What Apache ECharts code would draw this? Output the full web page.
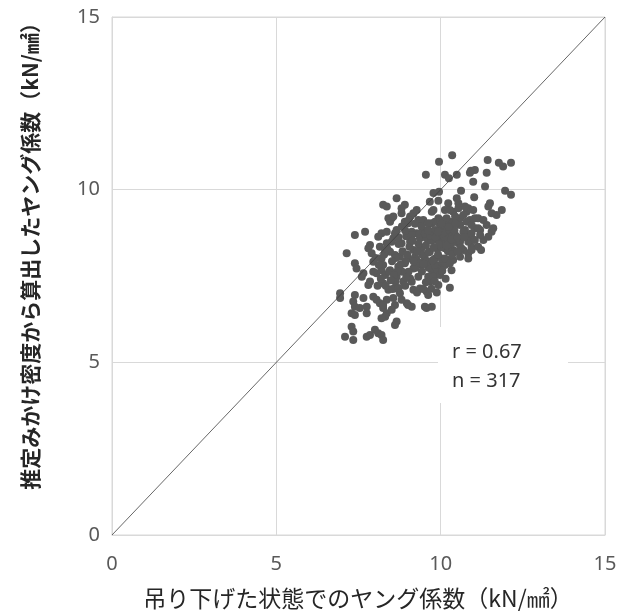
<!DOCTYPE html>
<html>
<head>
<meta charset="utf-8">
<script src="https://cdn.jsdelivr.net/npm/echarts@6/dist/echarts.min.js"></script>
<style>html,body{margin:0;padding:0;background:#fff;}#c{width:628px;height:612px;}</style>
</head>
<body>
<div id="c"></div>
<script>
// Axis ticks
const xTicks = [0, 5, 10, 15];
const yTicks = [0, 5, 10, 15];
const xTitle = '吊り下げた状態でのヤング係数（kN/㎟）';
const yTitle = '推定みかけ密度から算出したヤング係数（kN/㎟）';
const statLines = ['r = 0.67', 'n = 317'];
const refLine = [[0, 0], [15, 15]];

// [suspended Young's modulus, estimated Young's modulus] (kN/mm2)
const points = [
[9.55,10.43],[8.66,9.75],[8.25,9.56],[8.36,9.51],[8.91,9.56],[8.81,9.32],[8.51,9.17],[8.46,9.07],
[9.07,9.22],[9.32,9.12],[8.91,9.07],[7.70,8.78],[7.39,8.69],[8.20,8.74],[8.10,8.64],[8.56,8.59],
[7.85,8.40],[8.15,8.35],[10.35,11.00],[9.95,10.81],[10.13,10.43],[10.25,10.33],[10.49,10.43],[10.92,10.55],
[11.04,10.57],[10.89,10.49],[11.43,10.86],[11.77,10.78],[11.90,10.67],[12.14,10.78],[11.40,10.49],[10.99,10.23],
[11.35,10.09],[11.96,9.97],[12.14,9.85],[10.62,9.97],[11.02,9.78],[9.95,9.94],[9.78,9.90],[9.67,9.65],
[9.93,9.68],[10.23,9.61],[10.49,9.75],[10.54,9.61],[10.84,9.46],[10.79,9.36],[11.50,9.61],[11.86,9.41],
[11.70,9.27],[10.13,9.41],[10.38,9.36],[9.73,9.36],[10.59,9.17],[10.89,9.12],[11.14,9.17],[9.73,9.03],
[9.98,8.98],[10.28,9.07],[11.40,8.98],[11.20,8.83],[11.04,8.88],[11.55,8.78],[10.74,8.83],[10.79,8.64],
[10.94,8.59],[11.30,8.54],[9.62,8.83],[9.73,8.69],[9.98,8.59],[10.23,8.74],[10.38,8.59],[10.54,8.45],
[10.94,8.35],[11.14,8.35],[11.23,8.25],[10.84,8.16],[10.69,8.25],[10.38,8.25],[10.13,8.30],[9.67,8.20],
[9.83,8.01],[9.57,7.91],[10.13,7.91],[9.98,7.82],[10.33,7.67],[9.73,7.67],[9.93,7.58],[9.62,7.48],
[9.67,7.34],[9.93,7.24],[10.28,7.16],[9.57,7.05],[9.62,6.95],[9.73,6.61],[9.57,6.57],[7.14,8.16],
[7.80,8.30],[7.90,8.16],[8.31,8.25],[7.39,7.87],[7.44,7.72],[7.65,7.58],[7.60,7.48],[7.95,7.91],
[8.20,7.67],[8.05,7.58],[7.85,7.34],[7.80,7.24],[6.94,7.00],[6.94,6.86],[7.39,6.95],[7.34,6.76],
[7.39,6.61],[7.65,6.86],[7.75,6.61],[7.54,6.57],[7.95,6.90],[8.05,6.81],[8.15,6.71],[7.29,6.42],
[7.39,6.37],[7.75,6.42],[8.25,6.57],[8.36,6.42],[8.31,6.32],[8.61,6.66],[8.51,6.52],[9.01,6.66],
[9.12,6.61],[9.52,6.61],[8.66,6.18],[8.61,6.08],[8.20,6.28],[7.29,6.03],[7.34,5.89],[7.09,5.74],
[7.34,5.65],[7.75,5.74],[7.85,5.79],[8.10,5.84],[8.20,5.79],[8.25,5.65],[8.00,5.94],[8.41,9.17],
[8.56,9.22],[8.81,9.46],[9.01,9.03],[9.17,9.32],[9.27,9.41],[9.78,9.41],[9.93,9.17],[9.83,9.07],
[9.47,9.12],[8.66,8.83],[8.61,8.74],[8.36,8.78],[9.12,8.78],[9.27,8.74],[9.47,8.83],[10.08,8.88],
[10.18,8.83],[8.81,8.45],[8.51,8.49],[8.36,8.45],[9.07,8.49],[9.37,8.59],[9.57,8.59],[9.78,8.54],
[9.98,8.49],[10.13,8.54],[8.46,8.20],[8.61,8.11],[8.76,8.06],[9.17,8.25],[9.42,8.30],[9.88,8.30],
[9.01,8.01],[9.27,7.96],[9.52,8.01],[9.78,7.96],[10.03,8.01],[10.23,7.96],[8.20,8.01],[8.25,7.82],
[8.46,7.67],[8.31,7.53],[8.71,7.77],[8.91,7.87],[9.17,7.72],[9.42,7.82],[9.67,7.87],[9.88,7.72],
[10.13,7.82],[8.66,7.48],[8.86,7.34],[9.07,7.43],[9.32,7.48],[9.78,7.48],[9.98,7.53],[8.25,7.29],
[8.41,7.10],[8.61,7.14],[8.76,7.00],[9.17,7.10],[9.37,7.14],[8.36,6.81],[8.56,6.86],[8.25,6.66],
[8.97,6.71],[8.81,6.81],[11.55,9.32],[11.45,9.51],[10.28,9.41],[10.54,9.46],[10.74,9.51],[10.99,9.41],
[11.04,9.17],[11.30,9.12],[9.98,9.12],[10.18,9.17],[10.44,9.22],[10.69,9.27],[10.08,8.98],[10.33,8.93],
[10.59,8.98],[10.79,9.07],[10.94,8.98],[11.60,8.88],[11.14,8.88],[10.44,8.69],[10.69,8.78],[10.94,8.74],
[11.20,8.69],[11.45,8.64],[10.08,8.49],[10.33,8.45],[10.59,8.49],[10.84,8.49],[11.04,8.54],[10.44,8.20],
[10.94,8.25],[10.13,8.01],[10.38,7.96],[10.59,8.06],[10.84,8.01],[10.28,7.87],
[8.95,8.65],[9.05,8.35],[9.22,8.05],[9.33,8.42],[9.44,8.12],[9.55,8.38],[9.63,8.18],[9.72,8.52],
[9.12,8.68],[8.84,8.22],[8.93,7.93],[9.02,7.62],[9.24,7.74],[9.43,7.63],[9.55,7.32],[9.63,7.74],
[9.82,7.82],[9.92,8.12],[10.02,8.33],[10.12,8.63],[10.22,8.22],[10.32,8.55],[10.42,8.82],[10.52,8.62],
[10.62,8.32],[10.72,8.63],[10.03,9.02],[9.83,8.83],[9.62,9.03],[9.42,8.93],[9.22,9.01],[9.03,9.12],
[8.82,8.93],[8.72,8.43],[8.63,8.02],[8.52,7.93],[8.43,7.62],[8.62,7.33],[8.83,7.62],[8.92,7.22],
[9.12,7.33],[9.28,7.02],[9.47,7.12],[9.72,7.13],[9.88,7.02],[9.15,8.52],[9.35,8.72],[9.52,8.72],
[9.68,8.66],[9.85,8.62],[10.05,8.72],[10.25,8.92],[10.45,9.02],[9.95,8.42],[9.78,8.32],[9.58,7.92],
[9.38,7.88],[9.18,7.92],[8.98,8.12],[8.78,7.83],[8.68,7.63],[8.58,7.53],[8.48,7.38],[8.33,7.22],
[8.53,7.12],[8.18,7.42],[8.08,7.22],[8.12,7.82],[8.02,8.02],[7.95,7.62],[8.28,8.12],[8.38,8.28],
[8.72,8.62],[8.92,8.82],[9.62,8.82],[9.92,8.78],[10.18,8.38],[10.35,8.12],[10.52,8.22],[9.75,7.95],
[10.05,7.65],[10.15,7.42],[9.82,7.35],[9.48,7.85],[9.28,8.22],[8.95,7.45],[8.72,7.15]
];

const chart = echarts.init(document.getElementById('c'), null, {renderer: 'canvas'});
const gridColor = '#d9d9d9';
const labelStyle = {color: '#595959', fontSize: 20, fontFamily: 'Noto Sans, Open Sans, sans-serif'};
function axis(ticks, margin) {
  return {
    type: 'value',
    min: ticks[0], max: ticks[ticks.length - 1], interval: ticks[1] - ticks[0],
    axisLine: {show: true, lineStyle: {color: gridColor, width: 1}},
    axisTick: {show: false},
    splitLine: {show: true, lineStyle: {color: gridColor, width: 1}},
    axisLabel: Object.assign({margin: margin}, labelStyle)
  };
}
chart.setOption({
  animation: false,
  backgroundColor: '#ffffff',
  grid: {left: 112, right: 23, top: 17, bottom: 77, show: true, borderColor: gridColor, borderWidth: 1, backgroundColor: 'transparent'},
  xAxis: axis(xTicks, 19),
  yAxis: axis(yTicks, 12),
  series: [
    {
      type: 'scatter',
      data: points,
      symbol: 'circle',
      symbolSize: 8,
      itemStyle: {color: '#595959', opacity: 1},
      z: 3
    },
    {
      type: 'line',
      data: refLine,
      symbol: 'none',
      lineStyle: {color: '#404040', width: 0.8},
      z: 4
    }
  ],
  graphic: [
    {type: 'rect', z: 50, shape: {x: 438, y: 327, width: 130, height: 76}, style: {fill: '#ffffff'}},
    {type: 'text', z: 51, x: 452, y: 352, style: {text: statLines[0], fill: '#333333', fontSize: 20, fontFamily: 'Noto Sans, sans-serif', textVerticalAlign: 'middle'}},
    {type: 'text', z: 51, x: 452, y: 381, style: {text: statLines[1], fill: '#333333', fontSize: 20, fontFamily: 'Noto Sans, sans-serif', textVerticalAlign: 'middle'}},
    {type: 'text', z: 51, x: 358, y: 598, style: {text: xTitle, fill: '#262626', fontSize: 23, fontFamily: 'Noto Sans CJK JP, sans-serif', textAlign: 'center', textVerticalAlign: 'middle'}},
    {type: 'text', z: 51, x: 30, y: 251, rotation: Math.PI / 2, style: {text: yTitle, fill: '#262626', fontSize: 21, fontWeight: 'bold', fontFamily: 'Noto Sans CJK JP, sans-serif', textAlign: 'center', textVerticalAlign: 'middle'}}
  ]
});
</script>
</body>
</html>
